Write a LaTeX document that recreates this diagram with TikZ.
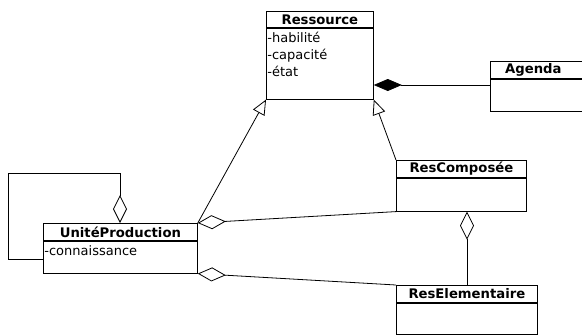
\documentclass[tikz,border=0pt]{standalone}
\usepackage{fontspec}
\setmainfont{DejaVu Sans}
\usetikzlibrary{arrows.meta}
\begin{document}
\begin{tikzpicture}[x=1pt,y=-1pt,
  line width=0.8pt,
  classhead/.style={draw, rectangle, inner sep=0pt, anchor=north west,
    font=\fontsize{13.2}{15}\selectfont\bfseries},
  classbody/.style={draw, rectangle, inner sep=0pt, anchor=north west},
  attrs/.style={anchor=north west, inner xsep=1pt, inner ysep=4pt, align=left,
    font=\fontsize{13}{17}\selectfont},
  generalize/.style={-{Triangle[open,length=15pt,width=13pt]}},
  aggregate/.style={{Diamond[open,length=28pt,width=14pt]}-},
  compose/.style={{Diamond[length=28pt,width=12pt]}-}]
\useasboundingbox (0,0) rectangle (582,335);

% Ressource
\node[classhead, minimum width=107pt, minimum height=16pt] (resH) at (266,11) {Ressource};
\node[classbody, minimum width=107pt, minimum height=71pt] (resB) at (resH.south west) {};
\node[attrs] (resA) at (resB.north west) {-habilité\\-capacité\\-état};

% Agenda
\node[classhead, minimum width=96pt, minimum height=17pt] (agH) at (490,61) {\hspace*{-10pt}Agenda};
\node[classbody, minimum width=96pt, minimum height=32pt] (agB) at (agH.south west) {};

% UnitéProduction
\node[classhead, minimum width=154pt, minimum height=17pt] (upH) at (43,223) {UnitéProduction};
\node[classbody, minimum width=154pt, minimum height=32pt] (upB) at (upH.south west) {};
\node[attrs] (upA) at (upB.north west) {-connaissance};

% ResComposée
\node[classhead, minimum width=130pt, minimum height=17pt] (rcH) at (396,160) {ResComposée};
\node[classbody, minimum width=130pt, minimum height=33pt] (rcB) at (rcH.south west) {};

% ResElementaire
\node[classhead, minimum width=141pt, minimum height=17pt] (reH) at (396,285) {ResElementaire};
\node[classbody, minimum width=141pt, minimum height=31pt] (reB) at (reH.south west) {};

% Composition with the agenda
\draw[compose] (resB.east |- 0,85) -- (agB.west |- 0,85);

% Generalisations
\draw[generalize] (upH.north east) -- (resB.south west);
\draw[generalize] (rcH.north west) -- (resB.south east);

% Aggregations
\draw[aggregate] (upH.north east) -- (rcB.south west);
\draw[aggregate] (upB.south east) -- (reH.north west);
\draw[aggregate] (rcB.south -| 467,0) -- (reH.north -| 467,0);

% Self aggregation of UnitéProduction
\coordinate (selfA) at (120,173);
\coordinate (selfB) at (8,173);
\coordinate (selfC) at (8,259);
\draw[aggregate] (upH.north -| selfA) -- (selfA) -- (selfB) -- (selfC) -- (upB.west |- selfC);
\end{tikzpicture}
\end{document}
